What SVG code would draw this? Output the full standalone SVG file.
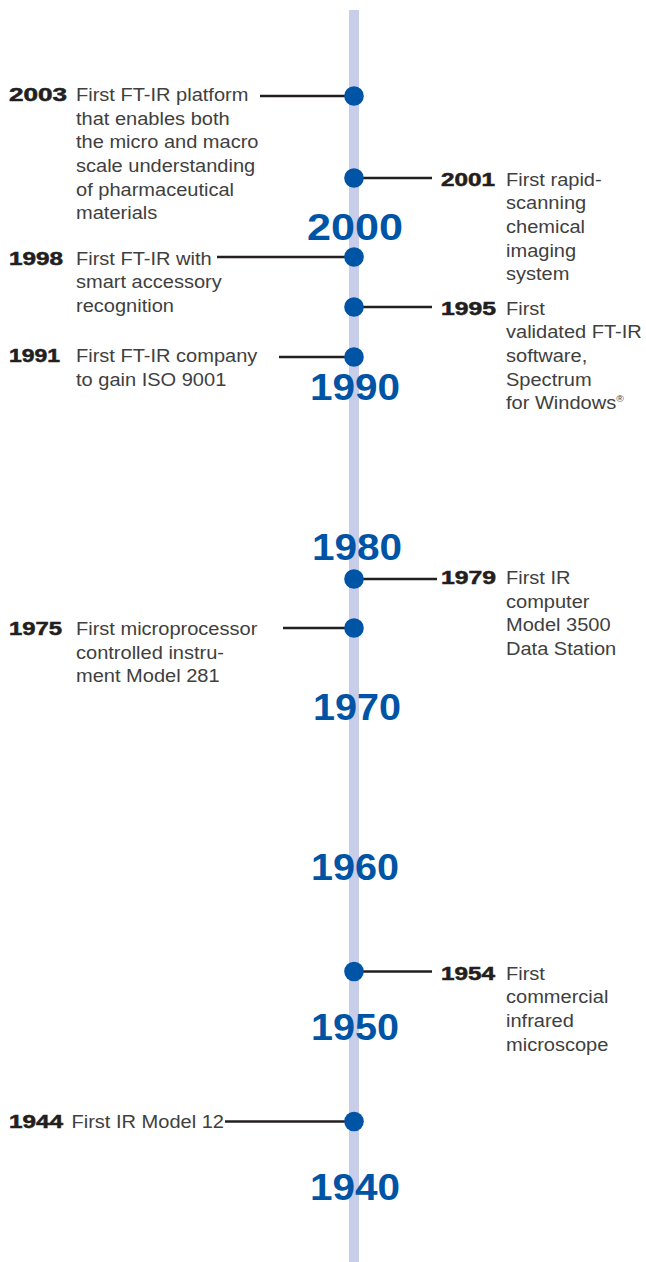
<svg xmlns="http://www.w3.org/2000/svg" width="646" height="1262" viewBox="0 0 646 1262">
<style>
.bar{fill:#c8cde9}
.dot{fill:#0054a6}
.conn line{stroke:#231f20;stroke-width:2.5}
.dec{font-family:"Liberation Sans",Arial,sans-serif;font-weight:700;font-size:36px;fill:#0054a6;text-anchor:middle}
.yr{font-family:"Liberation Sans",Arial,sans-serif;font-weight:700;font-size:17.5px;fill:#231f20;stroke:#231f20;stroke-width:0.5}
.tx{font-family:"Liberation Sans",Arial,sans-serif;font-size:17.5px;fill:#404040}
</style>
<rect class="bar" x="349" y="10" width="10" height="1252"/>
<g id="decades">
<text class="dec" x="355" y="240" textLength="96" lengthAdjust="spacingAndGlyphs">2000</text>
<text class="dec" x="355" y="400" textLength="90" lengthAdjust="spacingAndGlyphs">1990</text>
<text class="dec" x="357" y="560" textLength="90" lengthAdjust="spacingAndGlyphs">1980</text>
<text class="dec" x="357" y="720" textLength="88" lengthAdjust="spacingAndGlyphs">1970</text>
<text class="dec" x="355" y="880" textLength="88" lengthAdjust="spacingAndGlyphs">1960</text>
<text class="dec" x="355" y="1040" textLength="88" lengthAdjust="spacingAndGlyphs">1950</text>
<text class="dec" x="355" y="1200" textLength="90" lengthAdjust="spacingAndGlyphs">1940</text>
</g>
<g id="connectors" class="conn">
<line x1="260" y1="96" x2="354" y2="96"/>
<line x1="354" y1="178" x2="432" y2="178"/>
<line x1="217" y1="257" x2="354" y2="257"/>
<line x1="354" y1="307" x2="432" y2="307"/>
<line x1="279" y1="357" x2="354" y2="357"/>
<line x1="354" y1="579" x2="437" y2="579"/>
<line x1="283" y1="628" x2="354" y2="628"/>
<line x1="354" y1="971.5" x2="432" y2="971.5"/>
<line x1="225" y1="1121.5" x2="354" y2="1121.5"/>
</g>
<g id="n2003">
<circle class="dot" cx="354" cy="96" r="9.8"/>
<text class="yr" x="9" y="101" textLength="58" lengthAdjust="spacingAndGlyphs">2003</text>
<text class="tx" transform="translate(76 101) scale(1.145 1)"><tspan x="0" y="0">First FT-IR platform</tspan><tspan x="0" y="23.7">that enables both</tspan><tspan x="0" y="47.4">the micro and macro</tspan><tspan x="0" y="71.1">scale understanding</tspan><tspan x="0" y="94.8">of pharmaceutical</tspan><tspan x="0" y="118.5">materials</tspan></text>
</g>
<g id="n2001">
<circle class="dot" cx="354" cy="178" r="9.8"/>
<text class="yr" x="441" y="185.5" textLength="54" lengthAdjust="spacingAndGlyphs">2001</text>
<text class="tx" transform="translate(506 185.5) scale(1.145 1)"><tspan x="0" y="0">First rapid-</tspan><tspan x="0" y="23.7">scanning</tspan><tspan x="0" y="47.4">chemical</tspan><tspan x="0" y="71.1">imaging</tspan><tspan x="0" y="94.8">system</tspan></text>
</g>
<g id="n1998">
<circle class="dot" cx="354" cy="257" r="9.8"/>
<text class="yr" x="9" y="264.5" textLength="54" lengthAdjust="spacingAndGlyphs">1998</text>
<text class="tx" transform="translate(76 264.5) scale(1.145 1)"><tspan x="0" y="0">First FT-IR with</tspan><tspan x="0" y="23.7">smart accessory</tspan><tspan x="0" y="47.4">recognition</tspan></text>
</g>
<g id="n1995">
<circle class="dot" cx="354" cy="307" r="9.8"/>
<text class="yr" x="441" y="314.5" textLength="55" lengthAdjust="spacingAndGlyphs">1995</text>
<text class="tx" transform="translate(506 314.5) scale(1.145 1)"><tspan x="0" y="0">First</tspan><tspan x="0" y="23.7">validated FT-IR</tspan><tspan x="0" y="47.4">software,</tspan><tspan x="0" y="71.1">Spectrum</tspan><tspan x="0" y="94.8">for Windows<tspan font-size="9" dy="-7">®</tspan></tspan></text>
</g>
<g id="n1991">
<circle class="dot" cx="354" cy="357" r="9.8"/>
<text class="yr" x="9" y="362" textLength="51" lengthAdjust="spacingAndGlyphs">1991</text>
<text class="tx" transform="translate(76 362) scale(1.145 1)"><tspan x="0" y="0">First FT-IR company</tspan><tspan x="0" y="23.7">to gain ISO 9001</tspan></text>
</g>
<g id="n1979">
<circle class="dot" cx="354" cy="579" r="9.8"/>
<text class="yr" x="441" y="584" textLength="55" lengthAdjust="spacingAndGlyphs">1979</text>
<text class="tx" transform="translate(506 584) scale(1.145 1)"><tspan x="0" y="0">First IR</tspan><tspan x="0" y="23.7">computer</tspan><tspan x="0" y="47.4">Model 3500</tspan><tspan x="0" y="71.1">Data Station</tspan></text>
</g>
<g id="n1975">
<circle class="dot" cx="354" cy="628" r="9.8"/>
<text class="yr" x="9" y="635" textLength="53" lengthAdjust="spacingAndGlyphs">1975</text>
<text class="tx" transform="translate(76 635) scale(1.145 1)"><tspan x="0" y="0">First microprocessor</tspan><tspan x="0" y="23.7">controlled instru-</tspan><tspan x="0" y="47.4">ment Model 281</tspan></text>
</g>
<g id="n1954">
<circle class="dot" cx="354" cy="971.5" r="9.8"/>
<text class="yr" x="441" y="979.5" textLength="54" lengthAdjust="spacingAndGlyphs">1954</text>
<text class="tx" transform="translate(506 979.5) scale(1.145 1)"><tspan x="0" y="0">First</tspan><tspan x="0" y="23.7">commercial</tspan><tspan x="0" y="47.4">infrared</tspan><tspan x="0" y="71.1">microscope</tspan></text>
</g>
<g id="n1944">
<circle class="dot" cx="354" cy="1121.5" r="9.8"/>
<text class="yr" x="9" y="1128" textLength="54" lengthAdjust="spacingAndGlyphs">1944</text>
<text class="tx" transform="translate(71.5 1128) scale(1.145 1)">First IR Model 12</text>
</g>
</svg>
